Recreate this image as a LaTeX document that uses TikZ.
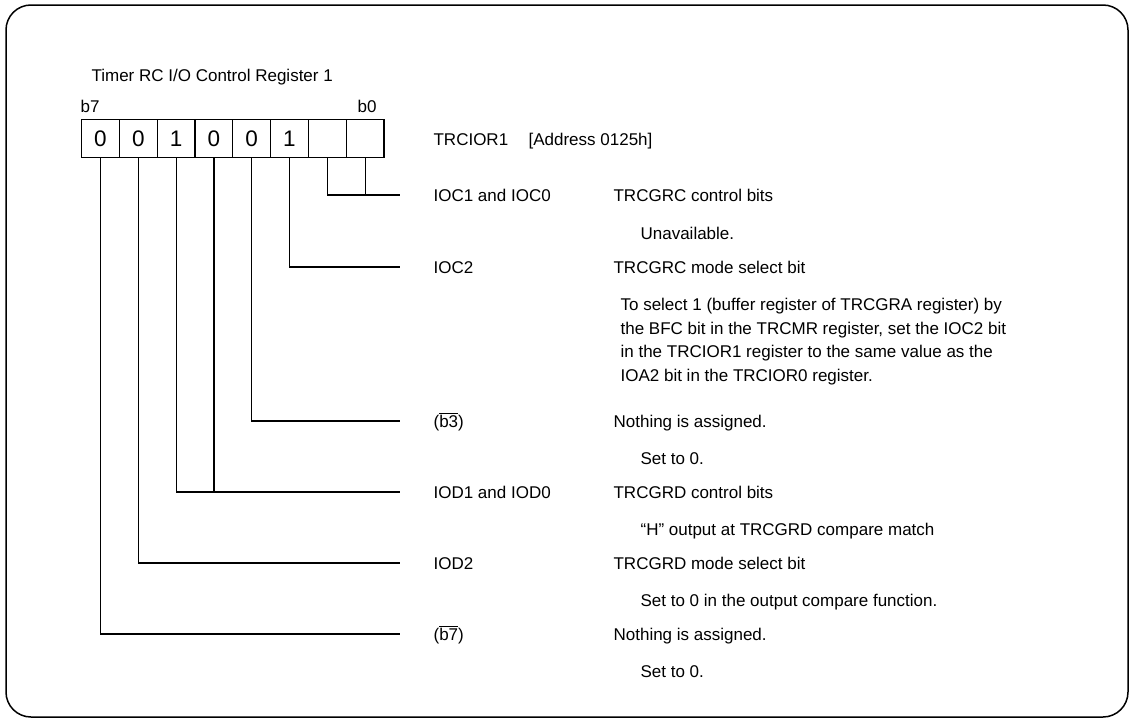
\documentclass[tikz,border=0pt]{standalone}
\usepackage{fontspec}
\setmainfont{Liberation Sans}
\begin{document}
\begin{tikzpicture}[x=1pt,y=-1pt,line width=1.2pt,
  lbl/.style={anchor=base west,inner sep=0pt,font=\fontsize{17}{20}\selectfont},
  cell/.style={draw,line width=1.2pt,minimum width=37.8pt,minimum height=38pt,inner sep=0pt,anchor=north west,font=\fontsize{22.5}{26}\selectfont},
  conn/.style={line width=1.2pt}]
\useasboundingbox (0,0) rectangle (1133,720);
\draw[rounded corners=25pt,line width=1.5pt] (6,5) rectangle (1128,717);
% title
\node[lbl] (title) at (91,81) {Timer RC I/O Control Register 1};
\node[lbl] (b7) at (80,112) {b7};
\node[lbl] (b0) at (357,112) {b0};
% cells
\foreach \i/\v in {7/0,6/0,5/1,4/0,3/0,2/1,1/{},0/{}} {
  \node[cell] (c\i) at ({81+(7-\i)*37.8},119) {\v};
}
\node[lbl] (reg) at (433,145) {TRCIOR1\hspace{1.2em}[Address 0125h]};
% connector end points
\coordinate (e10) at (400,195);
\coordinate (e2) at (400,267);
\coordinate (e3) at (400,421);
\coordinate (e54) at (400,492);
\coordinate (e6) at (400,563);
\coordinate (e7) at (400,634);
\draw[conn] (c1.south) |- (e10);
\draw[conn] (c0.south) -- (c0.south |- e10);
\draw[conn] (c2.south) |- (e2);
\draw[conn] (c3.south) |- (e3);
\draw[conn] (c5.south) |- (e54);
\draw[conn] (c4.south) -- (c4.south |- e54);
\draw[conn] (c6.south) |- (e6);
\draw[conn] (c7.south) |- (e7);
% left labels
\node[lbl] (n10) at (433,201) {IOC1 and IOC0};
\node[lbl] (n2) at (433,273) {IOC2};
\node[lbl] (n3) at (433,427) {(\(\overline{\hbox{b3}}\))};
\node[lbl] (n54) at (433,498) {IOD1 and IOD0};
\node[lbl] (n6) at (433,569) {IOD2};
\node[lbl] (n7) at (433,640) {(\(\overline{\hbox{b7}}\))};
% right column
\node[lbl] (d10) at (613,201) {TRCGRC control bits};
\node[lbl] (s10) at (640,239) {Unavailable.};
\node[lbl] (d2) at (613,273) {TRCGRC mode select bit};
\node[lbl] (p1) at (620,310) {To select 1 (buffer register of TRCGRA register) by};
\node[lbl] (p2) at (620,334) {the BFC bit in the TRCMR register, set the IOC2 bit};
\node[lbl] (p3) at (620,357) {in the TRCIOR1 register to the same value as the};
\node[lbl] (p4) at (620,381) {IOA2 bit in the TRCIOR0 register.};
\node[lbl] (d3) at (613,427) {Nothing is assigned.};
\node[lbl] (s3) at (640,464) {Set to 0.};
\node[lbl] (d54) at (613,498) {TRCGRD control bits};
\node[lbl] (s54) at (640,535) {“H” output at TRCGRD compare match};
\node[lbl] (d6) at (613,569) {TRCGRD mode select bit};
\node[lbl] (s6) at (640,606) {Set to 0 in the output compare function.};
\node[lbl] (d7) at (613,640) {Nothing is assigned.};
\node[lbl] (s7) at (640,677) {Set to 0.};
\end{tikzpicture}
\end{document}
